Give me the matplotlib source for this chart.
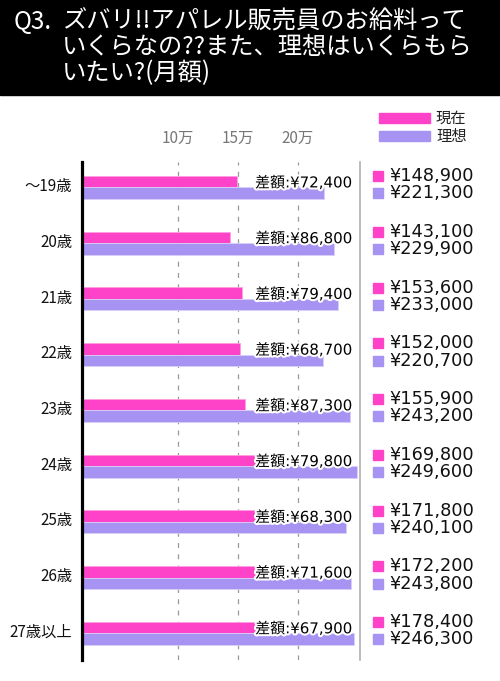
import matplotlib
matplotlib.use("Agg")
import matplotlib.pyplot as plt
import matplotlib.patheffects as pe
from matplotlib.patches import Rectangle

plt.rcParams["font.family"] = ["Noto Sans CJK JP", "DejaVu Sans"]

ages = ["～19歳", "20歳", "21歳", "22歳", "23歳", "24歳", "25歳", "26歳", "27歳以上"]
current = [148900, 143100, 153600, 152000, 155900, 169800, 171800, 172200, 178400]
ideal = [221300, 229900, 233000, 220700, 243200, 249600, 240100, 243800, 246300]
tick_values = [100000, 150000, 200000]
tick_labels = ["10万", "15万", "20万"]

PINK = "#ff43c9"
PURPLE = "#a793f2"

W, H = 500, 681


def fx(px):
    return px / W


def fy(py):
    return 1 - py / H


fig = plt.figure(figsize=(W / 100, H / 100), dpi=100)

# title band
fig.patches.append(Rectangle((0, fy(95)), 1, 95 / H, transform=fig.transFigure,
                             color="black", zorder=0))
fig.text(fx(14), fy(22), "Q3.", color="white", fontsize=17.5, va="center")
title_lines = ["ズバリ!!アパレル販売員のお給料って",
               "いくらなの??また、理想はいくらもら",
               "いたい?(月額)"]
for k, line in enumerate(title_lines):
    fig.text(fx(62), fy(22 + 25.5 * k), line, color="white", fontsize=17.5, va="center")

# legend
for py, col, lab in [(118, PINK, "現在"), (136, PURPLE, "理想")]:
    fig.patches.append(Rectangle((fx(379), fy(py + 5)), 51 / W, 10 / H,
                                 transform=fig.transFigure, color=col))
    fig.text(fx(436), fy(py), lab, fontsize=11, va="center", color="#222222")

ax = fig.add_axes([fx(82), fy(660), 278 / W, (660 - 162) / H])

ys = list(range(len(ages)))
h = 0.206
ax.barh([y - h / 2 for y in ys], current, height=h, color=PINK,
        edgecolor="#ff9fe2", linewidth=0.6, zorder=2)
ax.barh([y + h / 2 for y in ys], ideal, height=h, color=PURPLE,
        edgecolor="#d8cffa", linewidth=0.6, zorder=2)

ax.set_xlim(20000, 251700)
ax.set_ylim(8.48, -0.455)

ax.xaxis.set_ticks_position("top")
ax.set_xticks(tick_values)
ax.set_xticklabels(tick_labels, color="#777777", fontsize=11)
ax.tick_params(axis="x", length=0, pad=11)
ax.set_yticks([y - 0.05 for y in ys])
ax.set_yticklabels(ages, fontsize=11, color="#111111")
ax.tick_params(axis="y", length=0, pad=7)

ax.grid(axis="x", color="#999999", linestyle=(0, (4, 5)), linewidth=0.9, zorder=1)

for side in ["top", "bottom"]:
    ax.spines[side].set_visible(False)
ax.spines["left"].set_linewidth(2.3)
ax.spines["left"].set_color("black")
ax.spines["left"].set_zorder(3)
ax.spines["right"].set_color("#aaaaaa")
ax.spines["right"].set_linewidth(1.1)

tr = ax.get_yaxis_transform()
for y, c, i in zip(ys, current, ideal):
    ax.text(0.971, y - 0.08, f"差額:¥{i - c:,}", transform=tr, ha="right", va="center",
            fontsize=10.8, family=["DejaVu Sans", "Noto Sans CJK JP"], zorder=4,
            path_effects=[pe.withStroke(linewidth=3, foreground="white")])
    for dy, val, col in [(-0.2, c, PINK), (0.11, i, PURPLE)]:
        ax.plot([1.065], [y + dy], marker="s", ms=7.6, color=col, transform=tr,
                clip_on=False, linestyle="none")
        ax.text(1.104, y + dy, f"¥{val:,}", transform=tr, ha="left", va="center",
                fontsize=12.8, family=["DejaVu Sans"], color="#111111")

fig.savefig("out.png", dpi=100)
